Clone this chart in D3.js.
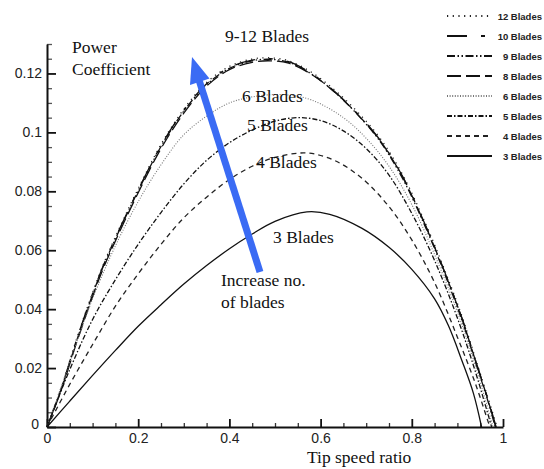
<!DOCTYPE html>
<html>
<head>
<meta charset="utf-8">
<script src="https://cdn.jsdelivr.net/npm/d3@7"></script>
<style>
  body { margin: 0; background: #fff; }
  svg { display: block; }
  .tick text { font-family: "Liberation Sans", Arial, sans-serif; font-size: 14px; fill: #222; }
  .note { font-family: "Liberation Serif", "Times New Roman", serif; font-size: 17.5px; fill: #111; }
  .leg { font-family: "Liberation Sans", Arial, sans-serif; font-size: 9.5px; font-weight: bold; fill: #222; }
</style>
</head>
<body>
<svg id="chart" width="544" height="469"></svg>
<script>
// tip speed ratio vs power coefficient
var blades3 = [[0,0],[0.05,0.0088],[0.1,0.0175],[0.15,0.026],[0.2,0.0342],[0.25,0.0415],[0.3,0.0485],[0.35,0.0548],[0.4,0.0605],[0.45,0.0655],[0.5,0.0698],[0.57,0.073],[0.62,0.0722],[0.69,0.0675],[0.75,0.061],[0.8,0.0535],[0.85,0.0435],[0.88,0.0345],[0.91,0.0225],[0.935,0.0115],[0.953,0]];
var blades4 = [[0,0],[0.05,0.0145],[0.1,0.028],[0.15,0.041],[0.2,0.052],[0.25,0.062],[0.3,0.071],[0.35,0.078],[0.4,0.084],[0.45,0.0885],[0.5,0.0915],[0.57,0.093],[0.63,0.0905],[0.69,0.0845],[0.75,0.0748],[0.8,0.0635],[0.85,0.049],[0.9,0.0305],[0.94,0.0145],[0.971,0]];
var blades5 = [[0,0],[0.05,0.0195],[0.1,0.0365],[0.15,0.050],[0.2,0.062],[0.25,0.0728],[0.3,0.0825],[0.35,0.0905],[0.4,0.0965],[0.45,0.1008],[0.5,0.1038],[0.55,0.105],[0.6,0.104],[0.65,0.1005],[0.7,0.0945],[0.75,0.0855],[0.8,0.0725],[0.85,0.0565],[0.9,0.037],[0.94,0.0185],[0.975,0]];
var blades6 = [[0,0],[0.05,0.022],[0.1,0.0435],[0.15,0.0615],[0.2,0.0765],[0.25,0.089],[0.3,0.0992],[0.35,0.1055],[0.4,0.110],[0.46,0.1123],[0.52,0.1128],[0.58,0.111],[0.65,0.105],[0.7,0.098],[0.75,0.0885],[0.8,0.0755],[0.85,0.0585],[0.9,0.039],[0.94,0.0205],[0.978,0]];
var blades8 = [[0,0],[0.03,0.012],[0.07,0.031],[0.12,0.0525],[0.16,0.0665],[0.2,0.0795],[0.25,0.0945],[0.3,0.1065],[0.35,0.1157],[0.4,0.1213],[0.45,0.1238],[0.49,0.1243],[0.53,0.1235],[0.58,0.1197],[0.63,0.1138],[0.68,0.1063],[0.73,0.0973],[0.78,0.0848],[0.83,0.0683],[0.87,0.0533],[0.91,0.0368],[0.94,0.0223],[0.965,0.0102],[0.984,0]];
var blades9 = [[0,0],[0.03,0.0123],[0.07,0.0316],[0.12,0.0532],[0.16,0.0672],[0.2,0.0802],[0.25,0.0952],[0.3,0.1072],[0.35,0.1162],[0.4,0.1217],[0.45,0.1243],[0.49,0.1248],[0.53,0.1238],[0.58,0.1198],[0.63,0.1138],[0.68,0.1062],[0.73,0.0970],[0.78,0.0843],[0.83,0.0678],[0.87,0.0528],[0.91,0.0362],[0.94,0.0218],[0.965,0.0098],[0.983,0]];
var blades10 = [[0,0],[0.03,0.0125],[0.07,0.032],[0.12,0.0535],[0.16,0.0675],[0.2,0.0805],[0.25,0.0955],[0.3,0.1075],[0.35,0.1165],[0.4,0.122],[0.45,0.1245],[0.49,0.125],[0.53,0.124],[0.58,0.120],[0.63,0.114],[0.68,0.1065],[0.73,0.0975],[0.78,0.085],[0.83,0.0685],[0.87,0.0535],[0.91,0.037],[0.94,0.0225],[0.965,0.0105],[0.985,0]];
var blades12 = [[0,0],[0.03,0.0127],[0.07,0.0323],[0.12,0.0538],[0.16,0.0679],[0.2,0.0809],[0.25,0.0959],[0.3,0.1079],[0.35,0.1169],[0.4,0.1224],[0.45,0.1249],[0.49,0.1253],[0.53,0.1243],[0.58,0.1204],[0.63,0.1145],[0.68,0.1071],[0.73,0.0981],[0.78,0.0856],[0.83,0.0691],[0.87,0.0541],[0.91,0.0376],[0.94,0.023],[0.965,0.0109],[0.987,0]];

var seriesNames = ['12 Blades','10 Blades','9 Blades','8 Blades','6 Blades','5 Blades','4 Blades','3 Blades'];
var xTicks = [0, 0.2, 0.4, 0.6, 0.8, 1];
var yTicks = [0, 0.02, 0.04, 0.06, 0.08, 0.1, 0.12];

var seriesData = [blades12, blades10, blades9, blades8, blades6, blades5, blades4, blades3];
var dashes = ['1.2,4.5', '20,14,4,14', '8,2.5,1.5,2.5,1.5,2.5', '14,5', '1,1.6', '5,2,1.5,2', '5,4', null];
var greys = ['#222', '#111', '#111', '#111', '#777', '#111', '#222', '#111'];

var svg = d3.select('#chart');
var x = d3.scaleLinear().domain([0, 1]).range([47, 503]);
var y = d3.scaleLinear().domain([0, 0.13]).range([427, 44]);

var minorX = d3.range(0, 1.0001, 0.05).filter(function(v) { return Math.abs(v * 5 - Math.round(v * 5)) > 1e-6; });
var minorY = d3.range(0, 0.1301, 0.005).filter(function(v) { return Math.abs(v * 50 - Math.round(v * 50)) > 1e-6; });

// minor ticks first
svg.append('g').attr('transform', 'translate(0,427)')
  .call(d3.axisBottom(x).tickValues(minorX).tickSize(-4).tickFormat(''))
  .call(function(g) { g.select('.domain').remove(); g.selectAll('line').attr('stroke', '#333').attr('stroke-width', 1.3); });
svg.append('g').attr('transform', 'translate(47,0)')
  .call(d3.axisLeft(y).tickValues(minorY).tickSize(-5).tickFormat(''))
  .call(function(g) { g.select('.domain').remove(); g.selectAll('line').attr('stroke', '#555').attr('stroke-width', 1.3); });

var xAxis = svg.append('g').attr('transform', 'translate(0,427)')
  .call(d3.axisBottom(x).tickValues(xTicks).tickSize(-8).tickSizeOuter(0).tickPadding(6).tickFormat(function(d) { return String(d); }));
var yAxis = svg.append('g').attr('transform', 'translate(47,0)')
  .call(d3.axisLeft(y).tickValues(yTicks).tickSize(-9).tickSizeOuter(0).tickPadding(5).tickFormat(function(d) { return String(d); }));
[xAxis, yAxis].forEach(function(g) {
  g.select('.domain').attr('stroke', '#111').attr('stroke-width', 2);
  g.selectAll('.tick line').attr('stroke', '#111').attr('stroke-width', 1.8);
});
yAxis.selectAll('.tick').filter(function(d) { return d === 0; }).select('text').attr('x', -8).attr('dy', '0.1em');

var line = d3.line()
  .x(function(d) { return x(d[0]); })
  .y(function(d) { return y(d[1]); })
  .curve(d3.curveCatmullRom.alpha(0.5));

seriesData.forEach(function(s, i) {
  svg.append('path')
    .datum(s)
    .attr('fill', 'none')
    .attr('stroke', greys[i])
    .attr('stroke-width', i === 4 ? 1.1 : 1.3)
    .attr('stroke-dasharray', dashes[i])
    .attr('d', line);
});

// legend
seriesNames.forEach(function(name, i) {
  var ly = 16 + i * 20;
  svg.append('line')
    .attr('x1', 447).attr('x2', 492).attr('y1', ly).attr('y2', ly)
    .attr('stroke', greys[i]).attr('stroke-width', 2)
    .attr('stroke-dasharray', dashes[i]);
  svg.append('text').attr('class', 'leg')
    .attr('x', 542).attr('y', ly + 3.5).attr('text-anchor', 'end')
    .text(name);
});

// annotation arrow
var arrowColor = '#3a6bf4';
svg.append('line')
  .attr('x1', 260).attr('y1', 272).attr('x2', 199).attr('y2', 80)
  .attr('stroke', arrowColor).attr('stroke-width', 7);
svg.append('polygon')
  .attr('points', '192,57 209.5,78.5 190,85')
  .attr('fill', arrowColor);

var notes = [
  ['Power', 72, 53, 'start'],
  ['Coefficient', 72, 75, 'start'],
  ['9-12 Blades', 267, 42, 'middle'],
  ['6 Blades', 242, 102, 'start'],
  ['5 Blades', 247, 131, 'start'],
  ['4 Blades', 256, 168, 'start'],
  ['3 Blades', 273, 243, 'start'],
  ['Increase no.', 221, 286, 'start'],
  ['of blades', 221, 308, 'start'],
  ['Tip speed ratio', 307, 463, 'start']
];
notes.forEach(function(n) {
  svg.append('text').attr('class', 'note')
    .attr('x', n[1]).attr('y', n[2]).attr('text-anchor', n[3])
    .text(n[0]);
});
</script>
</body>
</html>
